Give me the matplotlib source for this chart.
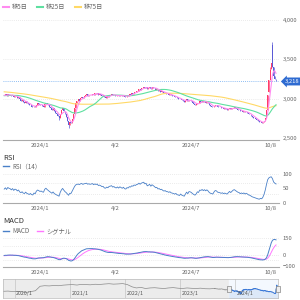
import numpy as np
import pandas as pd
import matplotlib
matplotlib.use("Agg")
import matplotlib.pyplot as plt
from matplotlib.lines import Line2D

plt.rcParams['font.family'] = ['Noto Sans CJK JP', 'DejaVu Sans']

# closes before the visible window (only needed to warm up the averages)
pre_closes = [3140, 3150, 3160, 3145, 3130, 3150, 3170, 3160, 3140, 3125,
              3130, 3110, 3120, 3135, 3150, 3140, 3120, 3105, 3115, 3100,
              3090, 3105, 3120, 3110, 3095, 3080, 3095, 3110, 3125, 3120,
              3100, 3090, 3100, 3115, 3130, 3120, 3105, 3095, 3085, 3100,
              3110, 3095, 3080, 3070, 3085, 3090, 3075, 3060, 3070, 3055,
              3040, 3030, 3045, 3020, 3010, 3025, 3040, 3050, 3035, 3020,
              3030, 3045, 3060, 3050, 3035, 3025, 3040, 3055, 3045, 3030,
              3040, 3050, 3035, 3045]

# daily closes, 2023/11/23 .. 2024/10/8
closes = [3040, 3055, 3035, 3060, 3050,
          3045, 3030, 3045, 3020, 3035, 3030,
          3010, 3020, 2990, 2975, 2985, 2960,
          2950, 2965, 2940, 2930,
          2915, 2925, 2900, 2890,
          2910, 2895, 2925, 2940,
          2930, 2915, 2920, 2905, 2900,
          2935, 2950,
          2930, 2915, 2895, 2880,
          2860, 2875, 2840, 2820,
          2800, 2785, 2760,
          2810, 2850, 2880,
          2840, 2800, 2770,
          2720, 2660,
          2700, 2690, 2740, 2800,
          2880, 2950,
          2970, 2990, 2975, 3010,
          3025, 3005, 3030, 3040,
          3055, 3035, 3050, 3040, 3050,
          3065, 3045, 3070, 3060,
          3075, 3050, 3060, 3050,
          3035, 3040, 3015, 3010,
          3030, 3020, 3045, 3050,
          3060, 3040, 3050, 3035, 3030,
          3045, 3030, 3050, 3040,
          3030, 3045, 3025, 3020,
          3040, 3035, 3055, 3050,
          3070, 3065, 3085, 3080, 3095, 3100,
          3120, 3110, 3130, 3140,
          3150, 3135, 3145, 3120, 3130,
          3145, 3125, 3150, 3140,
          3130, 3115, 3120, 3100, 3105, 3090,
          3095, 3080, 3070, 3075, 3060, 3060,
          3050, 3055, 3040, 3035, 3030,
          3020, 3025, 3005, 3000,
          2990, 3000, 2980, 2970,
          2960, 2975, 2990, 2965, 2985, 2980,
          2970, 2950, 2935, 2920,
          2930, 2950, 2940, 2965, 2960,
          2970, 2955, 2965, 2950, 2960,
          2945, 2920, 2905, 2900, 2890,
          2910, 2925, 2920, 2900, 2895, 2890,
          2880, 2885, 2870, 2875, 2865, 2860,
          2870, 2880, 2865, 2875, 2885, 2890,
          2880, 2870, 2860, 2855, 2840,
          2845, 2835, 2840, 2825, 2830, 2820,
          2805, 2800, 2785, 2770, 2760,
          2750, 2740, 2725, 2710, 2700, 2705, 2690,
          2700, 2720, 2760, 2850, 3050,
          3240, 3370, 3450, 3400, 3290, 3250, 3218]

open_fix = {222: 3080, 224: 3380, 225: 3680}
high_fix = {225: 3720, 223: 3400, 54: 2700}
low_fix = {54: 2630, 46: 2735}

# monthly closes for the navigator, 2019/10 .. 2023/7
nav_closes = [2900, 2920, 2880,
              2900, 2850, 2800, 2880, 2950, 3350, 3400, 3380, 3420, 3400, 3450, 3480,
              3500, 3460, 3520, 3500, 3480, 3530, 3510, 3550, 3580, 3540, 3560, 3590,
              3500, 3300, 3200, 3250, 3150, 3200, 3220, 3180, 3150, 3200, 3230, 3180,
              3150, 3200, 3170, 3150, 3180, 3130, 3120]

tick_dates = ["2024-01-04", "2024-04-02", "2024-07-01", "2024-10-08"]
tick_labels = ["2024/1", "4/2", "2024/7", "10/8"]
nav_years = ["2020-01-01", "2021-01-01", "2022-01-01", "2023-01-01", "2024-01-01"]
nav_labels = ["2020/1", "2021/1", "2022/1", "2023/1", "2024/1"]

UP, DOWN = '#ff3b6b', '#5b5bd6'
C5, C25, C75 = '#ff8cf0', '#5ee0a0', '#ffd966'
TXT = '#666666'

dates = pd.bdate_range(end="2024-10-08", periods=len(closes))
pre_dates = pd.bdate_range(end=dates[0] - pd.Timedelta(days=1), periods=len(pre_closes))
full = pd.Series(pre_closes + closes, index=pre_dates.append(dates), dtype=float)
n0 = len(pre_closes)

ma5 = full.rolling(5).mean().values[n0:]
ma25 = full.rolling(25).mean().values[n0:]
ma75 = full.rolling(75, min_periods=50).mean().values[n0:]

# RSI(14), Wilder smoothing
d = full.diff()
gain = d.clip(lower=0).ewm(alpha=1 / 14, adjust=False).mean()
loss = (-d.clip(upper=0)).ewm(alpha=1 / 14, adjust=False).mean()
rsi = (100 * gain / (gain + loss)).values[n0:]

ema12 = full.ewm(span=12, adjust=False).mean()
ema26 = full.ewm(span=26, adjust=False).mean()
macd = ema12 - ema26
signal = macd.ewm(span=9, adjust=False).mean()
macd = macd.values[n0:]
signal = signal.values[n0:]

c = np.array(closes, dtype=float)
o = np.concatenate([[pre_closes[-1]], c[:-1]])
for k, v in open_fix.items():
    o[k] = v
hi = np.maximum(o, c)
lo = np.minimum(o, c)
for k, v in high_fix.items():
    hi[k] = v
for k, v in low_fix.items():
    lo[k] = v
x = np.arange(len(c))
tick_pos = [dates.searchsorted(pd.Timestamp(t)) for t in tick_dates]


def box(x0, y0, x1, y1):
    return [x0 / 300, 1 - y1 / 300, (x1 - x0) / 300, (y1 - y0) / 300]


def style(ax):
    for s in ['top', 'left', 'right']:
        ax.spines[s].set_visible(False)
    ax.spines['bottom'].set_color('#aaaaaa')
    ax.spines['bottom'].set_linewidth(0.8)
    ax.yaxis.tick_right()
    ax.tick_params(axis='both', length=0, labelsize=4.2, labelcolor=TXT, pad=2.5)
    ax.set_xlim(-1, len(c) + 1.5)
    ax.set_xticks(tick_pos)
    ax.set_xticklabels(tick_labels)
    ax.get_xticklabels()[-1].set_horizontalalignment('right')
    ax.set_facecolor('white')


fig = plt.figure(figsize=(3, 3), dpi=100)

# price panel
ax = fig.add_axes(box(3, 12, 279, 140))
style(ax)
ax.set_ylim(2475, 4100)
ax.set_yticks([2500, 3000, 3500, 4000])
ax.set_yticklabels(['2,500', '3,000', '3,500', '4,000'])
for v in [3000, 3500, 4000]:
    ax.axhline(v, color='#d8d8d8', lw=0.5, ls=(0, (1, 2)), zorder=0)
up = c >= o
cols = np.where(up, UP, DOWN)
ax.vlines(x, lo, hi, colors=cols, lw=0.5, zorder=2)
ax.bar(x, np.maximum(np.abs(c - o), 4), bottom=np.minimum(o, c), width=0.8,
       color=cols, lw=0, zorder=2)
ax.plot(x, ma75, color=C75, lw=0.8, zorder=3)
ax.plot(x, ma25, color=C25, lw=0.8, zorder=3)
ax.plot(x, ma5, color=C5, lw=0.8, zorder=3)
ax.axhline(closes[-1], color='#6aa8f0', lw=0.6, ls=(0, (1, 1.5)), zorder=1)
ax.annotate(f"{closes[-1]:,}", xy=(1.0, closes[-1]), xycoords=('axes fraction', 'data'),
            xytext=(4.5, 0), textcoords='offset points', ha='left', va='center',
            color='white', fontsize=4.2, annotation_clip=False,
            bbox=dict(boxstyle='larrow,pad=0.25', fc='#2e6bd1', ec='none'))
handles = [Line2D([], [], color=C5, lw=1.5), Line2D([], [], color=C25, lw=1.5),
           Line2D([], [], color=C75, lw=1.5)]
leg = ax.legend(handles, ['移5日', '移25日', '移75日'], loc='lower left',
                bbox_to_anchor=(0, 1.005), ncol=3, frameon=False, fontsize=4.5,
                handlelength=1.0, handletextpad=0.5, columnspacing=1.4, borderaxespad=0,
                borderpad=0)
for t in leg.get_texts():
    t.set_color(TXT)

# RSI panel
fig.text(3 / 300, 1 - 158 / 300, 'RSI', fontsize=5.5, color='#333333', va='center')
ax2 = fig.add_axes(box(3, 171, 279, 203))
style(ax2)
ax2.set_ylim(0, 110)
ax2.set_yticks([0, 50, 100])
for v in [100, 70, 30]:
    ax2.axhline(v, color='#d8d8d8', lw=0.5, ls=(0, (1, 2)), zorder=0)
ax2.plot(x, rsi, color='#4a80c8', lw=0.6)
leg2 = ax2.legend([Line2D([], [], color='#4a80c8', lw=1)], ['RSI（14）'], loc='lower left',
                  bbox_to_anchor=(0, 1.02), frameon=False, fontsize=4.5, handlelength=1.0,
                  handletextpad=0.5, borderaxespad=0, borderpad=0)
for t in leg2.get_texts():
    t.set_color(TXT)

# MACD panel
fig.text(3 / 300, 1 - 221 / 300, 'MACD', fontsize=5.5, color='#333333', va='center')
ax3 = fig.add_axes(box(3, 236, 279, 267))
style(ax3)
ax3.set_ylim(-109, 168)
ax3.set_yticks([-100, 0, 150])
for v in [150, 75, 0, -50]:
    ax3.axhline(v, color='#d8d8d8', lw=0.5, ls=(0, (1, 2)), zorder=0)
ax3.plot(x, signal, color='#ff77ff', lw=0.7)
ax3.plot(x, macd, color='#4a80c8', lw=0.7)
leg3 = ax3.legend([Line2D([], [], color='#4a80c8', lw=1), Line2D([], [], color='#ff77ff', lw=1)],
                  ['MACD', 'シグナル'], loc='lower left', ncol=2, bbox_to_anchor=(0, 1.02),
                  frameon=False, fontsize=4.5, handlelength=1.0, handletextpad=0.5,
                  columnspacing=1.2, borderaxespad=0, borderpad=0)
for t in leg3.get_texts():
    t.set_color(TXT)

# navigator
ax4 = fig.add_axes(box(3, 279, 278, 298))
nav_dates = pd.date_range("2019-10-01", periods=len(nav_closes), freq="MS") + pd.Timedelta(days=14)
nav_series = pd.concat([pd.Series(nav_closes, index=nav_dates, dtype=float), full])
ax4.set_facecolor('#ececec')
ax4.set_xlim(pd.Timestamp("2019-10-13"), pd.Timestamp("2024-10-10"))
ax4.set_ylim(2300, 4000)
ax4.axvspan(dates[0], dates[-1], color='#f4f8fe', zorder=1)
ax4.plot(nav_series.index, nav_series.values, color='#8a8a8a', lw=0.5, zorder=2)
sel = nav_series[dates[0]:]
ax4.fill_between(sel.index, 2300, sel.values, color='#dce8f8', zorder=2)
ax4.plot(sel.index, sel.values, color='#3a78d8', lw=0.7, zorder=3)
for t, lab in zip(nav_years, nav_labels):
    ax4.axvline(pd.Timestamp(t), color='#bbbbbb', lw=0.4, zorder=1)
    ax4.text(pd.Timestamp(t) + pd.Timedelta(days=8), 2450, lab, fontsize=3.8, color='#555555',
             va='bottom', zorder=4)
handle = [(-0.5, -1), (0.5, -1), (0.5, 1), (-0.5, 1), (-0.5, -1)]
for t in [dates[0], dates[-1]]:
    ax4.plot([t], [3150], marker=handle, ms=4.5, mfc='#eeeeee', mec='#888888', mew=0.5,
             zorder=5, clip_on=False)
for s in ax4.spines.values():
    s.set_color('#bbbbbb')
    s.set_linewidth(0.5)
ax4.set_xticks([])
ax4.set_yticks([])

fig.savefig("out.png", dpi=100)
